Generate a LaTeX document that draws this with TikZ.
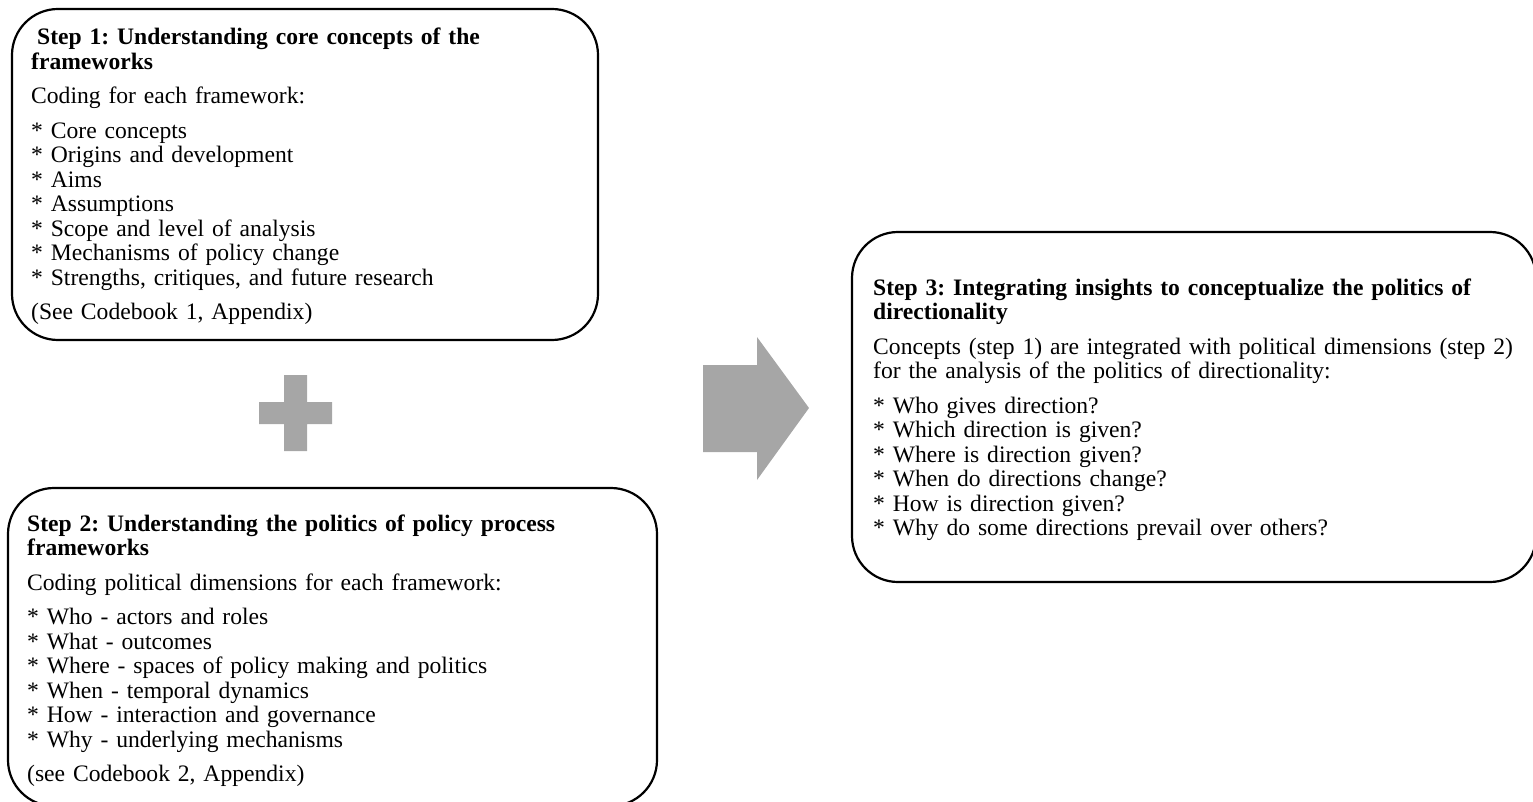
\documentclass[tikz,border=0pt]{standalone}
\usepackage{fontspec}
\setmainfont{Liberation Serif}
\definecolor{shapegray}{HTML}{A6A6A6}
\frenchspacing
\begin{document}
\begin{tikzpicture}[x=1pt, y=-1pt]
	\tikzset{bx/.style={draw=black, line width=2.2pt, rounded corners=46pt, inner sep=0pt},
	tx/.style={anchor=base west, align=left, inner sep=0pt, font=\fontsize{23.6}{24.5}\selectfont},
	g/.style={fill=shapegray}};

	\useasboundingbox (0,0) rectangle (1533,802);

	\node[bx, minimum width=586pt, minimum height=331pt] (s1) at (305,174.5) {};
	\node[bx, minimum width=649pt, minimum height=318pt] (s2) at (332.5,647) {};
	\node[bx, minimum width=684pt, minimum height=350pt] (s3) at (1194,407) {};

	\node[tx, text width=560pt] (t1) at (31,45) {\hspace*{6pt}\textbf{Step 1: Understanding core concepts of the}\\
		\textbf{frameworks}\\[10pt]
		Coding for each framework:\\[10pt]
		{*} Core concepts\\
		{*} Origins and development\\
		{*} Aims\\
		{*} Assumptions\\
		{*} Scope and level of analysis\\
		{*} Mechanisms of policy change\\
		{*} Strengths, critiques, and future research\\[10pt]
		(See Codebook 1, Appendix)};
	\node[tx, text width=620pt] (t2) at (27,531) {\textbf{Step 2: Understanding the politics of policy process}\\
		\textbf{frameworks}\\[10pt]
		Coding political dimensions for each framework:\\[10pt]
		{*} Who - actors and roles\\
		{*} What - outcomes\\
		{*} Where - spaces of policy making and politics\\
		{*} When - temporal dynamics\\
		{*} How - interaction and governance\\
		{*} Why - underlying mechanisms\\[10pt]
		(see Codebook 2, Appendix)};
	\node[tx, text width=660pt] (t3) at (873,295) {\textbf{Step 3: Integrating insights to conceptualize the politics of}\\
		\textbf{directionality}\\[10pt]
		Concepts (step 1) are integrated with political dimensions (step 2)\\
		for the analysis of the politics of directionality:\\[10pt]
		{*} Who gives direction?\\
		{*} Which direction is given?\\
		{*} Where is direction given?\\
		{*} When do directions change?\\
		{*} How is direction given?\\
		{*} Why do some directions prevail over others?};

	\fill[g] (284,375) -- (307,375) -- (307,402) -- (332,402) -- (332,424) -- (307,424)
		-- (307,451) -- (284,451) -- (284,424) -- (259,424) -- (259,402) -- (284,402) -- cycle;
	\fill[g] (703,365) -- (757,365) -- (757,337) -- (809,408) -- (757,480) -- (757,452)
		-- (703,452) -- cycle;
\end{tikzpicture}
\end{document}
